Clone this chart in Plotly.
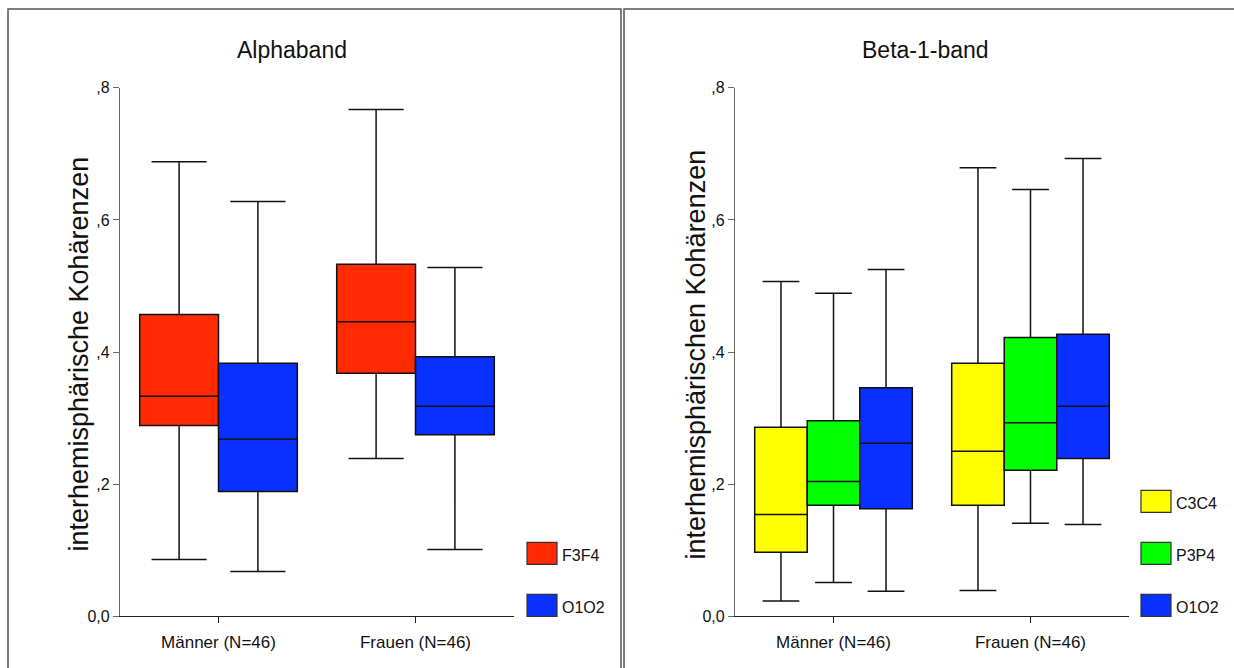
import plotly.graph_objects as go

W, H = 1234, 668

groups = ["Männer (N=46)", "Frauen (N=46)"]

# Alphaband: five-number summaries per channel pair
alpha_names = ["F3F4", "O1O2"]
alpha_colors = ["#FF2A00", "#0A30FF"]
alpha_low = [[0.086, 0.239], [0.068, 0.101]]
alpha_q1 = [[0.289, 0.368], [0.189, 0.275]]
alpha_med = [[0.333, 0.446], [0.268, 0.318]]
alpha_q3 = [[0.457, 0.533], [0.383, 0.393]]
alpha_high = [[0.688, 0.767], [0.628, 0.528]]

# Beta-1-band
beta_names = ["C3C4", "P3P4", "O1O2"]
beta_colors = ["#FFFF00", "#00FF00", "#0A30FF"]
beta_low = [[0.023, 0.039], [0.051, 0.141], [0.038, 0.139]]
beta_q1 = [[0.097, 0.168], [0.168, 0.221], [0.163, 0.239]]
beta_med = [[0.154, 0.250], [0.204, 0.293], [0.262, 0.318]]
beta_q3 = [[0.286, 0.383], [0.296, 0.422], [0.346, 0.427]]
beta_high = [[0.507, 0.679], [0.489, 0.646], [0.525, 0.693]]

y_ticks = [0.0, 0.2, 0.4, 0.6, 0.8]
y_ticktext = ["0,0", ",2", ",4", ",6", ",8"]

FONT = "Liberation Sans, Arial, sans-serif"
INK = "#111111"


def py(px):
    """Vertical page position (px from top) -> paper fraction."""
    return 1 - (px - 8.1) / 0.9755 / H


fig = go.Figure()


def add_boxes(names, colors, low, q1, med, q3, high, xa, ya, prefix):
    for i, name in enumerate(names):
        fig.add_trace(go.Box(
            name=name,
            x=groups,
            lowerfence=low[i], q1=q1[i], median=med[i], q3=q3[i], upperfence=high[i],
            fillcolor=colors[i],
            line=dict(color=INK, width=1.5),
            whiskerwidth=0.7,
            boxpoints=False,
            showlegend=False,
            offsetgroup=f"{prefix}{i}",
            xaxis=xa, yaxis=ya,
            hoverinfo="skip",
        ))


add_boxes(alpha_names, alpha_colors, alpha_low, alpha_q1, alpha_med, alpha_q3, alpha_high, "x", "y", "a")
add_boxes(beta_names, beta_colors, beta_low, beta_q1, beta_med, beta_q3, beta_high, "x2", "y2", "b")

y_dom = [py(617), py(88)]
common_x = dict(
    showline=True, linecolor="#222222", linewidth=1.2,
    ticks="outside", ticklen=6, tickcolor="#222222", ticklabelstandoff=4,
    tickfont=dict(family=FONT, size=17, color=INK),
    showgrid=False, zeroline=False,
)
common_y = dict(
    range=[0, 0.8], tickvals=y_ticks, ticktext=y_ticktext,
    showline=True, linecolor="#666666", linewidth=1.2,
    ticks="outside", ticklen=6, tickcolor="#666666",
    tickfont=dict(family=FONT, size=16, color=INK),
    showgrid=False, zeroline=False, domain=y_dom,
)

fig.update_layout(
    width=W, height=H,
    margin=dict(l=0, r=0, t=0, b=0),
    paper_bgcolor="white", plot_bgcolor="white",
    boxmode="group", boxgap=0.2, boxgroupgap=0,
    showlegend=False,
    xaxis=dict(domain=[120 / W, 514 / W], anchor="y", **common_x),
    yaxis=dict(anchor="x", **common_y),
    xaxis2=dict(domain=[735 / W, 1129 / W], anchor="y2", **common_x),
    yaxis2=dict(anchor="x2", **common_y),
)

# Panel frames
frame = dict(type="rect", xref="paper", yref="paper",
             line=dict(color="#555555", width=1.5), fillcolor="rgba(0,0,0,0)", layer="below")
fig.add_shape(x0=8 / W, x1=621 / W, y0=-0.02, y1=1 - 1 / H, **frame)
fig.add_shape(x0=624 / W, x1=1.02, y0=-0.02, y1=1 - 1 / H, **frame)

# Panel titles
for text, xc in [("Alphaband", 292), ("Beta-1-band", 925)]:
    fig.add_annotation(text=text, x=xc / W, y=py(50), xref="paper", yref="paper",
                       xanchor="center", yanchor="middle", showarrow=False,
                       font=dict(family=FONT, size=23, color=INK))

# Vertical axis titles
for text, xc in [("interhemisphärische Kohärenzen", 79), ("interhemisphärischen Kohärenzen", 696)]:
    fig.add_annotation(text=text, x=xc / W, y=py(355), xref="paper", yref="paper",
                       xanchor="center", yanchor="middle", textangle=-90, showarrow=False,
                       font=dict(family=FONT, size=27, color=INK))


# Legends: swatch with its label beside the lower right corner
def add_legend(names, colors, x_px, tops_px):
    for name, color, top in zip(names, colors, tops_px):
        fig.add_shape(type="rect", xref="paper", yref="paper",
                      x0=x_px / W, x1=(x_px + 30) / W,
                      y0=py(top + 22), y1=py(top),
                      fillcolor=color, line=dict(color="#333333", width=1.2))
        fig.add_annotation(text=name, x=(x_px + 33) / W, y=py(top + 24),
                           xref="paper", yref="paper", xanchor="left", yanchor="bottom",
                           showarrow=False, font=dict(family=FONT, size=16, color=INK))


add_legend(alpha_names, alpha_colors, 527, [543, 595])
add_legend(beta_names, beta_colors, 1141, [491, 543, 595])

fig.write_html("out.html")
